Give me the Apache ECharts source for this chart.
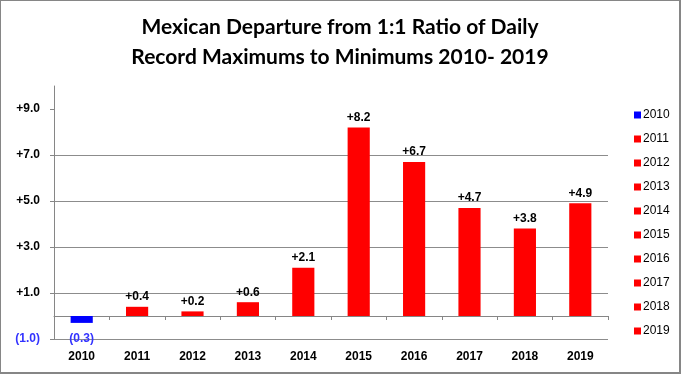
<!DOCTYPE html>
<html>
<head>
<meta charset="utf-8">
<script src="https://cdn.jsdelivr.net/npm/echarts@6/dist/echarts.min.js"></script>
<style>
html,body{margin:0;padding:0;background:#fff;}
#wrap{width:681px;height:374px;box-sizing:border-box;border:1px solid #868686;border-bottom-width:2px;border-right-width:2px;}
#main{width:678px;height:371px;}
</style>
</head>
<body>
<div id="wrap"><div id="main"></div></div>
<script>
var categories = ['2010','2011','2012','2013','2014','2015','2016','2017','2018','2019'];
var values = [-0.3, 0.4, 0.2, 0.6, 2.1, 8.2, 6.7, 4.7, 3.8, 4.9];
var barColors = ['#0000ff','#ff0000','#ff0000','#ff0000','#ff0000','#ff0000','#ff0000','#ff0000','#ff0000','#ff0000'];
var yTicks = [-1, 1, 3, 5, 7, 9];
var titleText = 'Mexican Departure from 1:1 Ratio of Daily\nRecord Maximums to Minimums 2010- 2019';

function fmt(v){
  return v < 0 ? '(' + Math.abs(v).toFixed(1) + ')' : '+' + v.toFixed(1);
}
var FONT = '"Liberation Sans", Arial, sans-serif';

var series = categories.map(function(c, i){
  var d = categories.map(function(_, j){ return j === i ? values[i] : '-'; });
  var neg = values[i] < 0;
  return {
    name: c,
    type: 'bar',
    stack: 'all',
    xAxisIndex: 0,
    barWidth: '40%',
    data: d,
    itemStyle: { color: barColors[i] },
    label: {
      show: true,
      position: neg ? 'bottom' : 'top',
      distance: neg ? 10 : 4,
      formatter: function(p){ return fmt(p.value); },
      fontFamily: FONT,
      fontWeight: 'bold',
      fontSize: 12,
      color: neg ? '#3333ff' : '#000'
    }
  };
});

var chart = echarts.init(document.getElementById('main'));
chart.setOption({
  animation: false,
  backgroundColor: '#fff',
  title: {
    text: titleText,
    left: 'center',
    top: 11,
    padding: 0,
    textStyle: { fontFamily: 'Lato, "Open Sans", sans-serif', fontWeight: 'bold', fontSize: 21, lineHeight: 30, color: '#000' }
  },
  legend: {
    orient: 'vertical',
    left: 628,
    top: 102,
    icon: 'rect',
    itemWidth: 7,
    itemHeight: 7,
    itemGap: 10,
    textStyle: { fontFamily: FONT, fontSize: 12, lineHeight: 14, color: '#000', padding: [0,0,0,-3] },
    data: categories
  },
  grid: { left: 53, right: 71, top: 85, bottom: 33, outerBoundsMode: 'none', containLabel: false },
  xAxis: [{
    type: 'category',
    data: categories,
    axisLine: { onZero: true, lineStyle: { color: '#868686', width: 1 } },
    axisTick: { show: true, interval: 0, length: 4, lineStyle: { color: '#868686' } },
    axisLabel: { show: false },
    splitLine: { show: false }
  }, {
    type: 'category',
    data: categories,
    position: 'bottom',
    axisLine: { show: false, onZero: false },
    axisTick: { show: false },
    axisLabel: { margin: 12, interval: 0, fontFamily: FONT, fontWeight: 'bold', fontSize: 12, color: '#000' },
    splitLine: { show: false }
  }],
  yAxis: {
    type: 'value',
    min: -1,
    max: 10,
    interval: 2,
    axisLine: { show: true, lineStyle: { color: '#868686', width: 1 } },
    axisTick: { show: true, length: 4, lineStyle: { color: '#868686' }, customValues: yTicks },
    axisLabel: {
      margin: 14,
      fontFamily: FONT, fontWeight: 'bold', fontSize: 12,
      customValues: yTicks,
      formatter: function(v){ return v === 10 ? '' : fmt(v); },
      color: function(v){ return Number(v) < 0 ? '#3333ff' : '#000'; }
    },
    splitLine: { show: true, showMaxLine: false, lineStyle: { color: '#8c8c8c', width: 1 } }
  },
  series: series
});
</script>
</body>
</html>
